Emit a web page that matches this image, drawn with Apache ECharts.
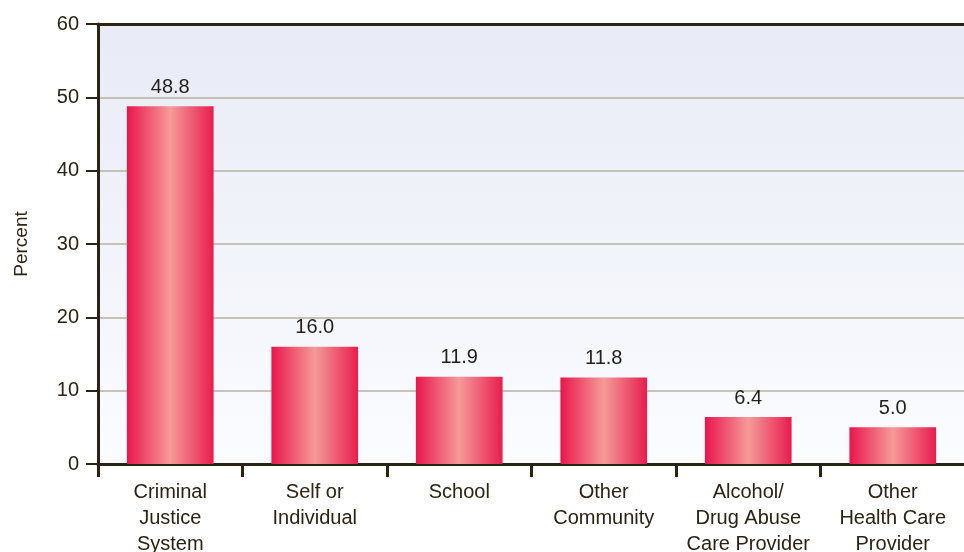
<!DOCTYPE html>
<html>
<head>
<meta charset="utf-8">
<script src="https://cdn.jsdelivr.net/npm/echarts@6/dist/echarts.min.js"></script>
<style>
  html, body { margin: 0; padding: 0; background: #fff; }
  #chart { width: 964px; height: 552px; }
</style>
</head>
<body>
<div id="chart"></div>
<script>
  var categories = ['Criminal\nJustice\nSystem', 'Self or\nIndividual', 'School', 'Other\nCommunity', 'Alcohol/\nDrug Abuse\nCare Provider', 'Other\nHealth Care\nProvider'];
  var percents = [48.8, 16.0, 11.9, 11.8, 6.4, 5.0];
  var yTicks = [0, 10, 20, 30, 40, 50, 60];

  var ink = '#2b2314';
  var font = 'Liberation Sans, Arial, sans-serif';
  var myChart = echarts.init(document.getElementById('chart'));
  var option = {
    animation: false,
    grid: {
      left: 98,
      right: -1,
      top: 24,
      bottom: 88,
      outerBoundsMode: 'none',
      containLabel: false,
      show: true,
      borderWidth: 0,
      backgroundColor: {
        type: 'linear', x: 0, y: 0, x2: 0, y2: 1,
        colorStops: [
          { offset: 0, color: '#e8ebf6' },
          { offset: 1, color: '#fbfcff' }
        ]
      }
    },
    xAxis: [{
      type: 'category',
      data: categories,
      axisLine: { lineStyle: { color: ink, width: 3 } },
      axisTick: { show: true, length: 13, lineStyle: { color: ink, width: 3 } },
      axisLabel: {
        interval: 0,
        color: ink,
        fontFamily: font,
        fontSize: 20,
        lineHeight: 26,
        margin: 15
      }
    }, {
      type: 'category',
      position: 'top',
      data: categories,
      axisLine: { show: true, lineStyle: { color: ink, width: 3 } },
      axisTick: { show: false },
      axisLabel: { show: false }
    }],
    yAxis: {
      type: 'value',
      min: yTicks[0],
      max: yTicks[yTicks.length - 1],
      interval: 10,
      name: 'Percent',
      nameLocation: 'middle',
      nameGap: 67,
      nameRotate: 90,
      nameTextStyle: { color: ink, fontSize: 19, fontFamily: font },
      axisLine: { show: true, lineStyle: { color: ink, width: 3 } },
      axisTick: { show: true, length: 12, lineStyle: { color: ink, width: 2 } },
      axisLabel: {
        color: ink,
        fontSize: 20,
        fontFamily: font,
        margin: 19
      },
      splitLine: { lineStyle: { color: '#b7b0a2', width: 1.5 } }
    },
    series: [{
      type: 'bar',
      data: percents,
      barWidth: '60%',
      itemStyle: {
        color: {
          type: 'linear', x: 0, y: 0, x2: 1, y2: 0,
          colorStops: [
            { offset: 0, color: '#e9164d' },
            { offset: 0.5, color: '#f49b98' },
            { offset: 1, color: '#e81d4f' }
          ]
        }
      },
      label: {
        show: true,
        position: 'top',
        distance: 9,
        color: '#231f1a',
        fontSize: 20,
        fontFamily: font,
        formatter: function (p) { return p.value.toFixed(1); }
      }
    }]
  };
  myChart.setOption(option);
</script>
</body>
</html>
